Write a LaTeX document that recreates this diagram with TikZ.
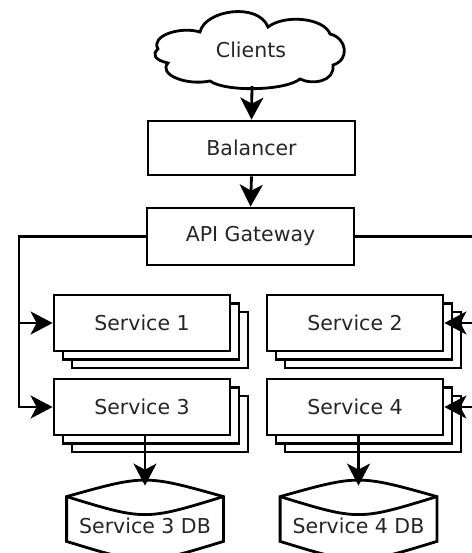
\documentclass[tikz,border=0pt]{standalone}
\usepackage{fontspec}
\setmainfont{DejaVu Sans}
\usetikzlibrary{arrows.meta,shadows,calc}
\begin{document}
\begin{tikzpicture}[x=1pt,y=-1pt,line width=2.8pt,
  txt/.style={font=\fontsize{20.5}{24}\selectfont, text=black!85, inner sep=0pt},
  box/.style={txt, draw=black, fill=white, line width=2.8pt},
  svc/.style={box, minimum width=176pt, minimum height=56pt,
    double copy shadow={shadow xshift=9pt, shadow yshift=-8.5pt, draw=black, fill=white, line width=2.8pt}},
  dbshape/.style={minimum width=154pt, minimum height=42pt, inner sep=0pt},
  arr/.style={-{Stealth[length=22pt,width=23pt,inset=6pt]}}]
\useasboundingbox (0,0) rectangle (471,553);
% cloud
\draw[fill=white] (158,49) .. controls (150,36) and (180,26) .. (200,32)
  .. controls (205,10) and (258,2) .. (268,27)
  .. controls (285,14) and (324,18) .. (330,34)
  .. controls (347,38) and (350,60) .. (333,65)
  .. controls (335,82) and (312,85) .. (300,79)
  .. controls (285,91) and (225,92) .. (210,81)
  .. controls (185,86) and (158,74) .. (168,63)
  .. controls (154,60) and (152,54) .. cycle;
\node[txt] (clients) at (251,50) {Clients};
\coordinate (cloudbot) at (252,86);
\node[box, minimum width=207pt, minimum height=54pt] (bal) at (251.5,148) {Balancer};
\node[box, minimum width=207pt, minimum height=57pt] (gw) at (250.5,236.5) {API Gateway};
\node[svc] (s1) at (142,323) {Service 1};
\node[svc] (s2) at (355,323) {Service 2};
\node[svc] (s3) at (142,407) {Service 3};
\node[svc] (s4) at (355,407) {Service 4};
% databases
\node[dbshape] (db3) at (145,519) {};
\node[dbshape] (db4) at (358.5,519) {};
\foreach \d in {db3,db4}{
  \draw[fill=white] (\d.north west) .. controls ($(\d.north)+(0,-22)$) .. (\d.north east)
    -- (\d.south east) .. controls ($(\d.south)+(0,24)$) .. (\d.south west) -- cycle;
  \draw (\d.north west) .. controls ($(\d.north)+(0,24)$) .. (\d.north east);
}
\node[txt] (db3t) at (145,526) {Service 3 DB};
\node[txt] (db4t) at (358.5,526) {Service 4 DB};
\coordinate (db3top) at ($(db3.north)+(0,-11)$);
\coordinate (db4top) at ($(db4.north)+(0,-11)$);
% connectors
\draw[arr] (cloudbot) -- (bal.north);
\draw[arr] (bal.south) -- (gw.north);
\coordinate (lb) at (19,407);
\coordinate (rb) at (474,407);
\draw[arr] (gw.west) -| (lb) -- (s3.west);
\draw[arr] (lb |- s1.west) -- (s1.west);
\draw[arr] (gw.east) -| (rb) -- (s4.east);
\draw[arr] (rb |- s2.east) -- (s2.east);
\draw[arr] (s3.south -| db3top) -- (db3top);
\draw[arr] (s4.south -| db4top) -- (db4top);
\end{tikzpicture}
\end{document}
